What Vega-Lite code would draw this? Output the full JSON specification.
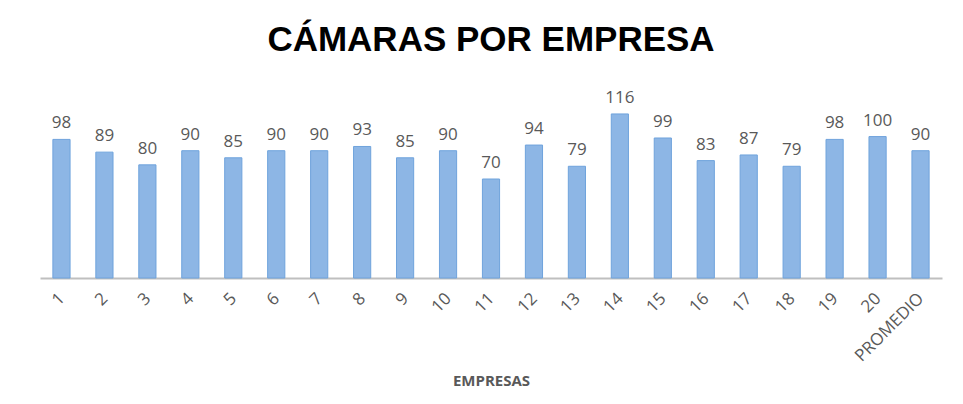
{
  "$schema": "https://vega.github.io/schema/vega-lite/v6.json",
  "autosize": {"type": "none"},
  "width": 902,
  "height": 198,
  "padding": {"left": 40, "top": 80, "right": 21, "bottom": 126},
  "background": "white",
  "config": {"view": {"stroke": null}, "font": "Liberation Sans"},
  "title": {
    "text": "CÁMARAS POR EMPRESA",
    "font": "Liberation Sans",
    "fontSize": 35,
    "fontWeight": "bold",
    "color": "#000000",
    "anchor": "middle",
    "offset": 22
  },
  "data": {
    "values": [
      {"empresa": "1", "camaras": 98},
      {"empresa": "2", "camaras": 89},
      {"empresa": "3", "camaras": 80},
      {"empresa": "4", "camaras": 90},
      {"empresa": "5", "camaras": 85},
      {"empresa": "6", "camaras": 90},
      {"empresa": "7", "camaras": 90},
      {"empresa": "8", "camaras": 93},
      {"empresa": "9", "camaras": 85},
      {"empresa": "10", "camaras": 90},
      {"empresa": "11", "camaras": 70},
      {"empresa": "12", "camaras": 94},
      {"empresa": "13", "camaras": 79},
      {"empresa": "14", "camaras": 116},
      {"empresa": "15", "camaras": 99},
      {"empresa": "16", "camaras": 83},
      {"empresa": "17", "camaras": 87},
      {"empresa": "18", "camaras": 79},
      {"empresa": "19", "camaras": 98},
      {"empresa": "20", "camaras": 100},
      {"empresa": "PROMEDIO", "camaras": 90}
    ]
  },
  "encoding": {
    "x": {
      "field": "empresa",
      "type": "nominal",
      "sort": null,
      "scale": {"paddingInner": 0.6, "paddingOuter": 0.3},
      "axis": {
        "title": "EMPRESAS",
        "titleFont": "Open Sans",
        "titleFontSize": 15,
        "titleFontWeight": "bold",
        "titleColor": "#595959",
        "titlePadding": 9,
        "labelAngle": -45,
        "labelFont": "Open Sans",
        "labelFontSize": 17,
        "labelColor": "#595959",
        "labelPadding": 12,
        "labelOffset": -5,
        "ticks": false,
        "domainColor": "#BFBFBF",
        "domainWidth": 2
      }
    },
    "y": {
      "field": "camaras",
      "type": "quantitative",
      "scale": {"domain": [0, 140], "nice": false},
      "axis": null
    }
  },
  "layer": [
    {
      "mark": {
        "type": "bar",
        "color": "#8DB6E5",
        "stroke": "#6FA3DC",
        "strokeWidth": 1
      }
    },
    {
      "mark": {
        "type": "text",
        "baseline": "bottom",
        "dy": -7,
        "font": "Open Sans",
        "fontSize": 17,
        "color": "#595959"
      },
      "encoding": {"text": {"field": "camaras", "type": "quantitative"}}
    }
  ]
}
